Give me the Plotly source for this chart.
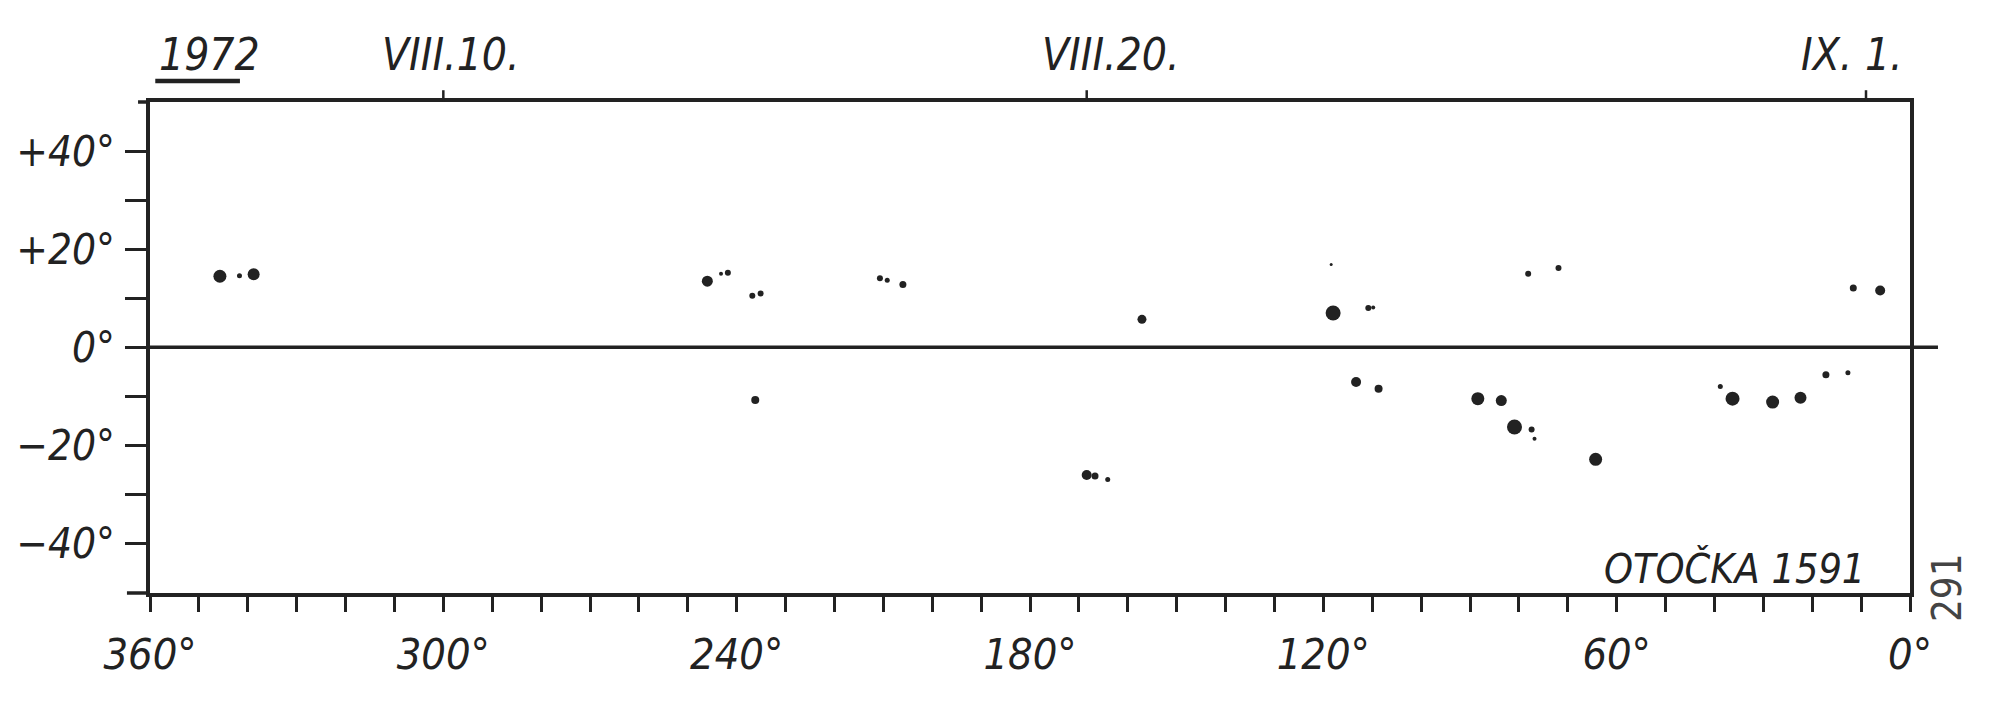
import plotly.graph_objects as go

# ---- data ----
# Carrington longitude (deg) and latitude (deg) of sunspot groups, with relative spot size
lon = [345.7, 341.7, 338.8,
       246.0, 243.2, 241.8, 236.8, 235.1, 236.2,
       210.7, 209.2, 206.0,
       157.1, 168.4, 166.7, 164.1,
       118.4, 118.0, 110.8, 109.8, 113.3, 108.7,
       88.4, 83.6, 80.9, 77.4, 76.8, 78.1, 71.9, 64.3,
       38.8, 36.3, 28.1, 22.4, 17.2, 12.7, 11.6, 6.1]
lat = [14.5, 14.6, 14.9,
       13.5, 15.0, 15.2, 10.5, 11.0, -10.8,
       14.1, 13.7, 12.8,
       5.7, -26.1, -26.3, -27.0,
       16.9, 7.0, 8.0, 8.1, -7.1, -8.5,
       -10.5, -10.9, -16.3, -16.8, -18.7, 15.0, 16.2, -22.9,
       -8.0, -10.5, -11.2, -10.3, -5.6, -5.2, 12.1, 11.6]
spot_size = [13, 5, 12,
             11, 4, 6, 6, 6, 8,
             6, 5, 7,
             9, 10, 7, 5,
             3, 15, 6, 4, 10, 8,
             13, 11, 15, 6, 4, 6, 6, 13,
             5, 14, 13, 12, 7, 5, 7, 10]

x_ticks = list(range(0, 361, 10))
x_labels = {360: "360°", 300: "300°", 240: "240°", 180: "180°", 120: "120°", 60: "60°", 0: "0°"}
y_ticks = list(range(-40, 41, 10))
y_labels = {40: "+40°", 20: "+20°", 0: "0°", -20: "−20°", -40: "−40°"}

date_lon = [300, 168.4, 9.0]
date_labels = ["VIII.10.", "VIII.20.", "IX. 1."]
date_shift = [-63, -47, -67]

year_label = "1972"
title_label = "OTOČKA 1591"
page_label = "291"

INK = "#222222"
FONT = "Liberation Sans Narrow, DejaVu Sans Condensed, Liberation Sans, sans-serif"

fig = go.Figure()
fig.add_trace(go.Scatter(
    x=lon, y=lat, mode="markers",
    marker=dict(size=spot_size, color=INK, opacity=1, line=dict(width=0)),
    showlegend=False, hoverinfo="x+y"))

# page body adds an 8 px offset, compensated in the margins
fig.update_layout(
    width=2000, height=704,
    margin=dict(l=142, r=98, t=94, b=119),
    paper_bgcolor="white", plot_bgcolor="white",
    font=dict(family=FONT, color=INK, size=42, style="italic"),
    xaxis=dict(range=[360, 0], tickvals=x_ticks,
               ticktext=[x_labels.get(v, "") for v in x_ticks],
               ticks="outside", ticklen=15, tickwidth=3, tickcolor=INK,
               showline=True, linewidth=3.5, linecolor=INK, mirror=True,
               showgrid=False, zeroline=False, ticklabelstandoff=6, automargin=False,
               tickfont=dict(family=FONT, size=43, color=INK, style="italic")),
    yaxis=dict(range=[-50.2, 50.1], tickvals=y_ticks,
               ticktext=[y_labels.get(v, "") for v in y_ticks],
               ticks="outside", ticklen=21, tickwidth=3, tickcolor=INK,
               showline=True, linewidth=3.5, linecolor=INK, mirror=True,
               showgrid=False, zeroline=False, ticklabelstandoff=2, automargin=False,
               tickfont=dict(family=FONT, size=42, color=INK, style="italic")),
)

shapes = []
# zero latitude line, extending beyond right frame
shapes.append(dict(type="line", xref="paper", yref="y", x0=0, x1=1.0159, y0=0, y1=0,
                   line=dict(color=INK, width=3.5)))
# left extensions of top and bottom frame lines
shapes.append(dict(type="line", xref="paper", yref="paper", x0=-0.0068, x1=0, y0=1, y1=1,
                   line=dict(color=INK, width=3.5)))
shapes.append(dict(type="line", xref="paper", yref="paper", x0=-0.0131, x1=0, y0=0, y1=0,
                   line=dict(color=INK, width=3.5)))
# date ticks on the top frame
for d in date_lon:
    shapes.append(dict(type="line", xref="x", yref="paper", x0=d, x1=d, y0=1, y1=1.024,
                       line=dict(color=INK, width=2.5)))
# underline of year
shapes.append(dict(type="line", xref="paper", yref="paper", x0=0.003, x1=0.0511,
                   y0=1.0428, y1=1.0428, line=dict(color=INK, width=4.5)))
fig.update_layout(shapes=shapes)

ann = []
for d, t, s in zip(date_lon, date_labels, date_shift):
    ann.append(dict(x=d, y=1.04, xref="x", yref="paper", text=t, showarrow=False,
                    xanchor="left", yanchor="bottom", xshift=s,
                    font=dict(family=FONT, size=44, color=INK, style="italic")))
ann.append(dict(x=0.004, y=1.04, xref="paper", yref="paper", text=year_label, showarrow=False,
                xanchor="left", yanchor="bottom",
                font=dict(family=FONT, size=44, color=INK, style="italic")))
ann.append(dict(x=0.9756, y=-0.004, xref="paper", yref="paper", text=title_label, showarrow=False,
                xanchor="right", yanchor="bottom",
                font=dict(family=FONT, size=41, color=INK, style="italic")))
ann.append(dict(x=1.021, y=0.012, xref="paper", yref="paper", text=page_label, showarrow=False,
                xanchor="center", yanchor="middle", textangle=-90,
                font=dict(family="Liberation Sans Narrow, DejaVu Sans Condensed, sans-serif",
                          size=40, color="#444", style="normal")))
fig.update_layout(annotations=ann)

fig.write_html("out.html")
